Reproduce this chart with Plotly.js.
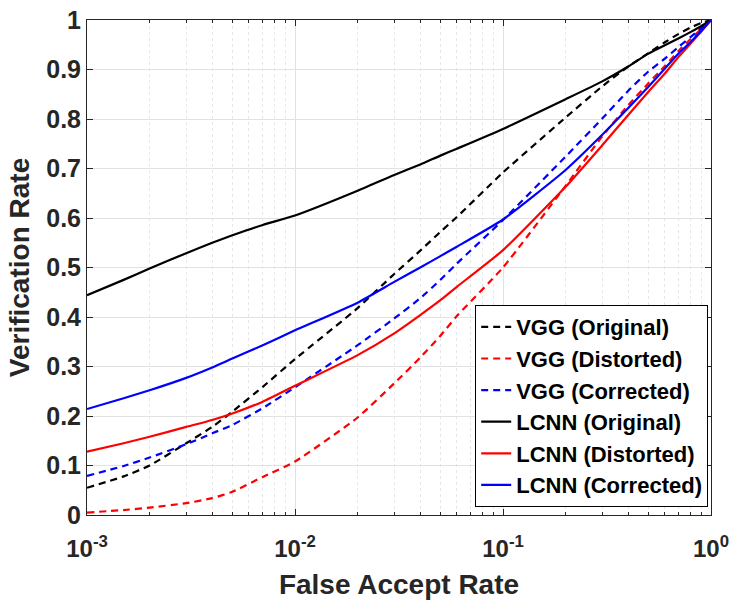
<!DOCTYPE html>
<html>
<head>
<meta charset="utf-8">
<script src="https://cdn.plot.ly/plotly-3.0.1.min.js"></script>
<style>html,body{margin:0;padding:0;background:#fff;}#chart{width:733px;height:600px;}</style>
</head>
<body>
<div id="chart"></div>
<script>
// False accept rate sample points (shared by all series)
const far = [0.001,0.0015,0.002,0.003,0.004,0.005,0.007,0.01,0.02,0.03,0.04,0.05,0.06,0.1,0.2,0.3,0.4,0.5,0.6,0.7,0.8,0.9,1];

const vggOriginal   = [0.055,0.078,0.100,0.145,0.178,0.209,0.259,0.315,0.418,0.487,0.534,0.572,0.602,0.692,0.803,0.866,0.906,0.933,0.955,0.972,0.985,0.994,1.0];
const vggDistorted  = [0.005,0.010,0.015,0.024,0.034,0.047,0.077,0.108,0.197,0.266,0.318,0.362,0.402,0.500,0.665,0.765,0.828,0.872,0.907,0.938,0.962,0.982,1.0];
const vggCorrected  = [0.079,0.099,0.116,0.143,0.165,0.182,0.216,0.258,0.343,0.397,0.438,0.475,0.508,0.596,0.724,0.801,0.857,0.896,0.922,0.946,0.966,0.984,1.0];
const lcnnOriginal  = [0.444,0.475,0.498,0.529,0.550,0.565,0.586,0.605,0.655,0.687,0.708,0.726,0.740,0.780,0.840,0.876,0.906,0.932,0.949,0.963,0.976,0.988,1.0];
const lcnnDistorted = [0.128,0.145,0.158,0.178,0.192,0.205,0.229,0.261,0.323,0.367,0.404,0.434,0.461,0.535,0.663,0.747,0.808,0.855,0.892,0.926,0.953,0.977,1.0];
const lcnnCorrected = [0.214,0.236,0.252,0.277,0.298,0.316,0.343,0.373,0.429,0.471,0.500,0.523,0.542,0.597,0.697,0.768,0.822,0.865,0.902,0.933,0.956,0.979,1.0];

const seriesNames = ['VGG (Original)','VGG (Distorted)','VGG (Corrected)','LCNN (Original)','LCNN (Distorted)','LCNN (Corrected)'];
const seriesData = [vggOriginal, vggDistorted, vggCorrected, lcnnOriginal, lcnnDistorted, lcnnCorrected];
const seriesColors = ['#000000','#ff0000','#0000ff','#000000','#ff0000','#0000ff'];
const seriesDash = ['7px,5px','7px,5px','7px,5px','solid','solid','solid'];

const xTickVals = [0.001, 0.01, 0.1, 1];
const xTickText = ['10<sup>-3</sup>','10<sup>-2</sup>','10<sup>-1</sup>','10<sup>0</sup>'];

const traces = seriesNames.map((n, i) => ({
  x: far, y: seriesData[i], name: n, type: 'scatter', mode: 'lines',
  line: {color: seriesColors[i], width: 2.2, dash: seriesDash[i], shape: 'spline', smoothing: 0.5}
}));

const fontFam = 'Liberation Sans, Arial, sans-serif';
const axisCol = '#262626';

const layout = {
  width: 733, height: 600,
  margin: {l: 87, r: 22, t: 20, b: 85},
  paper_bgcolor: '#fff', plot_bgcolor: '#fff',
  font: {family: fontFam, color: axisCol},
  showlegend: true,
  legend: {
    x: 0.9955, xanchor: 'right', y: 0.016, yanchor: 'bottom',
    bgcolor: '#fff', bordercolor: '#000', borderwidth: 1,
    font: {family: fontFam, size: 22, color: '#000', weight: 'bold'},
    tracegroupgap: 0
  },
  xaxis: {
    type: 'log', range: [-3, 0],
    tickvals: xTickVals, ticktext: xTickText,
    ticks: 'inside', ticklen: 6, tickcolor: axisCol,
    showline: true, linecolor: axisCol, linewidth: 1, mirror: 'ticks',
    showgrid: true, gridcolor: '#e2e2e2', gridwidth: 1,
    zeroline: false,
    tickfont: {family: fontFam, size: 24, color: axisCol, weight: 'bold'},
    ticklabelstandoff: 12,
    minor: {dtick: 'D1', ticks: 'inside', ticklen: 3, tickcolor: axisCol, showgrid: true, gridcolor: '#e6e6e6', griddash: 'dot', gridwidth: 1},
    title: {text: 'False Accept Rate', font: {family: fontFam, size: 28, color: axisCol, weight: 'bold'}, standoff: 15}
  },
  yaxis: {
    range: [0, 1], dtick: 0.1,
    ticks: 'inside', ticklen: 6, tickcolor: axisCol,
    showline: true, linecolor: axisCol, linewidth: 1, mirror: 'ticks',
    showgrid: true, gridcolor: '#e2e2e2', gridwidth: 1,
    zeroline: false,
    tickfont: {family: fontFam, size: 25, color: axisCol, weight: 'bold'},
    title: {text: 'Verification Rate', font: {family: fontFam, size: 28, color: axisCol, weight: 'bold'}, standoff: 8}
  }
};

Plotly.newPlot('chart', traces, layout, {displayModeBar: false, staticPlot: true});
</script>
</body>
</html>
